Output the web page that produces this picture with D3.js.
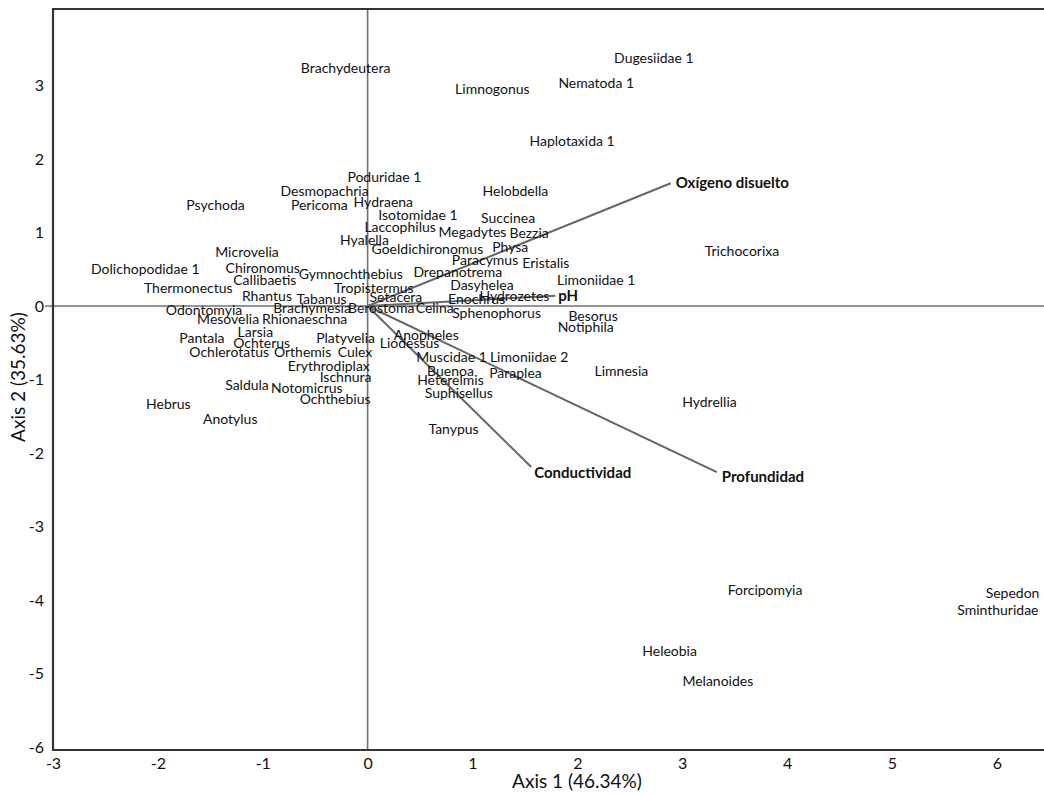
<!DOCTYPE html>
<html>
<head>
<meta charset="utf-8">
<script src="https://cdn.jsdelivr.net/npm/d3@7"></script>
<style>
  body { margin: 0; background: #fff; }
  svg { display: block; }
  text { font-family: Lato, "Open Sans", sans-serif; fill: #111; }
</style>
</head>
<body>
<svg id="chart" width="1044" height="796"></svg>
<script>
const taxa = ["Brachydeutera","Dugesiidae 1","Nematoda 1","Limnogonus","Haplotaxida 1","Poduridae 1","Desmopachria","Pericoma","Psychoda","Hydraena","Helobdella","Isotomidae 1","Succinea","Laccophilus","Megadytes","Bezzia","Hyalella","Goeldichironomus","Physa","Microvelia","Paracymus","Eristalis","Trichocorixa","Chironomus","Dolichopodidae 1","Gymnochthebius","Drepanotrema","Callibaetis","Limoniidae 1","Dasyhelea","Thermonectus","Tropistermus","Rhantus","Tabanus","Setacera","Hydrozetes","Enochrus","Odontomyia","Brachymesia","Berostoma","Celina","Sphenophorus","Besorus","Mesovelia","Rhionaeschna","Notiphila","Larsia","Pantala","Anopheles","Platyvelia","Ochterus","Liodessus","Ochlerotatus","Orthemis","Culex","Muscidae 1","Limoniidae 2","Erythrodiplax","Buenoa","Paraplea","Limnesia","Ischnura","Heterelmis","Saldula","Notomicrus","Suphisellus","Ochthebius","Hydrellia","Hebrus","Anotylus","Tanypus","Forcipomyia","Sepedon","Sminthuridae","Heleobia","Melanoides"];
const axis1 = [-0.21,2.73,2.18,1.19,1.95,0.16,-0.41,-0.46,-1.45,0.15,1.41,0.48,1.34,0.31,1.00,1.54,-0.03,0.57,1.36,-1.15,1.12,1.70,3.57,-1.00,-2.12,-0.16,0.86,-0.98,2.18,1.09,-1.71,0.06,-0.96,-0.44,0.27,1.40,1.04,-1.56,-0.53,0.13,0.64,1.23,2.15,-1.33,-0.60,2.08,-1.07,-1.58,0.56,-0.21,-1.01,0.40,-1.32,-0.62,-0.12,0.80,1.54,-0.37,0.79,1.41,2.42,-0.21,0.79,-1.15,-0.58,0.87,-0.31,3.26,-1.90,-1.31,0.82,3.79,6.15,6.01,2.88,3.34];
const axis2 = [3.22,3.36,3.01,2.93,2.22,1.73,1.54,1.35,1.36,1.40,1.54,1.22,1.18,1.06,0.99,0.97,0.88,0.75,0.78,0.71,0.60,0.57,0.73,0.50,0.48,0.41,0.44,0.34,0.33,0.26,0.23,0.23,0.12,0.07,0.10,0.12,0.07,-0.08,-0.05,-0.05,-0.05,-0.12,-0.15,-0.20,-0.20,-0.30,-0.37,-0.45,-0.41,-0.45,-0.52,-0.53,-0.65,-0.65,-0.65,-0.72,-0.72,-0.84,-0.91,-0.93,-0.90,-0.99,-1.03,-1.09,-1.14,-1.20,-1.29,-1.32,-1.35,-1.56,-1.69,-3.88,-3.92,-4.15,-4.71,-5.12];

const vectorNames = ["Oxígeno disuelto","pH","Conductividad","Profundidad"];
const vectorX = [2.89,1.79,1.56,3.33];
const vectorY = [1.67,0.14,-2.19,-2.26];

const xTicks = [-3,-2,-1,0,1,2,3,4,5,6];
const yTicks = [-6,-5,-4,-3,-2,-1,0,1,2,3];

const svg = d3.select("#chart");
const mLeft = 53, mTop = 9, mBottom = 750, mRight = 1044;

const x = d3.scaleLinear().domain([-3, 6.45]).range([mLeft, mRight]);
const y = d3.scaleLinear().domain([-6.04, 4.04]).range([mBottom, mTop]);

// zero lines
svg.append("line").attr("x1", mLeft - 8).attr("x2", mRight)
  .attr("y1", y(0)).attr("y2", y(0))
  .attr("stroke", "#707070").attr("stroke-width", 1.6);
svg.append("line").attr("x1", x(0)).attr("x2", x(0))
  .attr("y1", mTop).attr("y2", mBottom)
  .attr("stroke", "#707070").attr("stroke-width", 1.6);

// vectors
const vg = svg.append("g");
vectorNames.forEach((n, i) => {
  vg.append("line").attr("x1", x(0)).attr("y1", y(0))
    .attr("x2", x(vectorX[i])).attr("y2", y(vectorY[i]))
    .attr("stroke", "#666").attr("stroke-width", 2);
});
const vOff = [[5, 1], [3, 1], [3, 7], [5, 6]];
vectorNames.forEach((n, i) => {
  vg.append("text").attr("x", x(vectorX[i]) + vOff[i][0]).attr("y", y(vectorY[i]) + vOff[i][1])
    .attr("dominant-baseline", "middle")
    .attr("font-size", 15).attr("font-weight", "bold").text(n);
});

// taxa labels
svg.append("g").selectAll("text").data(taxa).join("text")
  .attr("x", (d, i) => x(axis1[i]))
  .attr("y", (d, i) => y(axis2[i]))
  .attr("text-anchor", "middle")
  .attr("dominant-baseline", "middle")
  .attr("font-size", 14)
  .text(d => d);

// frame
svg.append("path")
  .attr("d", `M${mRight},${mTop}H${mLeft}V${mBottom}H${mRight}`)
  .attr("fill", "none").attr("stroke", "#333").attr("stroke-width", 2.2);

// axes (labels only)
const fmt = d => String(d);
const xAxis = d3.axisBottom(x).tickValues(xTicks).tickFormat(fmt).tickSize(0).tickPadding(8);
const gx = svg.append("g").attr("transform", `translate(0,${mBottom})`).call(xAxis);
gx.select(".domain").remove();
gx.selectAll("text").attr("font-size", 16).attr("font-family", "Lato, sans-serif").attr("fill", "#111");

const yAxis = d3.axisLeft(y).tickValues(yTicks).tickFormat(fmt).tickSize(0).tickPadding(9);
const gy = svg.append("g").attr("transform", `translate(${mLeft},0)`).call(yAxis);
gy.select(".domain").remove();
gy.selectAll("text").attr("font-size", 16).attr("font-family", "Lato, sans-serif").attr("fill", "#111");

svg.append("text").attr("x", 577).attr("y", 783).attr("text-anchor", "middle")
  .attr("dominant-baseline", "middle")
  .attr("font-size", 19).text("Axis 1 (46.34%)");
svg.append("text").attr("transform", "translate(20,377) rotate(-90)").attr("text-anchor", "middle")
  .attr("dominant-baseline", "middle")
  .attr("font-size", 19).text("Axis 2 (35.63%)");
</script>
</body>
</html>
